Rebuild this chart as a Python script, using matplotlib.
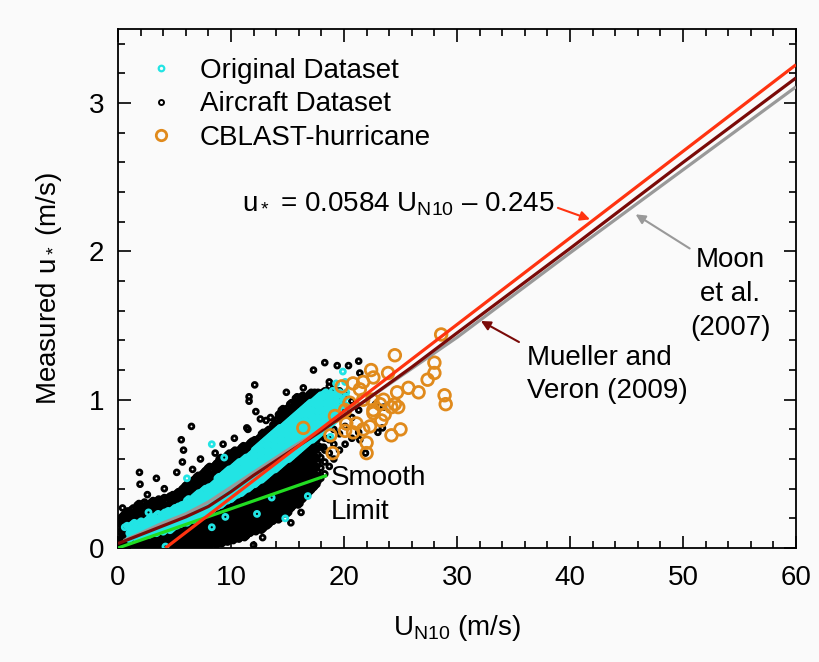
import numpy as np
import matplotlib
matplotlib.use("Agg")
import matplotlib.pyplot as plt
from matplotlib.lines import Line2D

plt.rcParams['font.family'] = ['Liberation Sans', 'DejaVu Sans']
plt.rcParams['mathtext.fontset'] = 'custom'
plt.rcParams['mathtext.rm'] = 'Liberation Sans'
plt.rcParams['mathtext.it'] = 'Liberation Sans:italic'
plt.rcParams['mathtext.bf'] = 'Liberation Sans:bold'

# ---------------- data ----------------
# Aircraft dataset: dense core, as (U_N10, [u* values]) columns
aircraft_core = [
    (0.2, [0.01, 0.06, 0.11, 0.16, 0.20]),
    (0.45, [0.03, 0.08, 0.13, 0.18, 0.22]),
    (0.7, [0.00, 0.05, 0.10, 0.15, 0.20, 0.24]),
    (0.95, [0.02, 0.07, 0.12, 0.17, 0.22]),
    (1.2, [0.01, 0.06, 0.11, 0.16, 0.21, 0.26]),
    (1.45, [0.03, 0.08, 0.13, 0.18, 0.23]),
    (1.7, [0.00, 0.05, 0.10, 0.15, 0.20, 0.25, 0.29]),
    (1.95, [0.02, 0.07, 0.12, 0.17, 0.22, 0.27]),
    (2.2, [0.01, 0.06, 0.11, 0.16, 0.21, 0.26, 0.30]),
    (2.45, [0.03, 0.08, 0.13, 0.18, 0.23, 0.28]),
    (2.7, [0.00, 0.05, 0.10, 0.15, 0.20, 0.25, 0.29]),
    (2.95, [0.02, 0.07, 0.12, 0.17, 0.22, 0.27, 0.31]),
    (3.2, [0.01, 0.06, 0.11, 0.16, 0.21, 0.26, 0.30]),
    (3.45, [0.03, 0.08, 0.13, 0.18, 0.23, 0.28, 0.32]),
    (3.7, [0.00, 0.05, 0.10, 0.15, 0.20, 0.25, 0.30]),
    (3.95, [0.02, 0.07, 0.12, 0.17, 0.22, 0.27, 0.33]),
    (4.2, [0.01, 0.06, 0.11, 0.16, 0.21, 0.26, 0.31]),
    (4.45, [0.03, 0.08, 0.13, 0.18, 0.23, 0.28, 0.34]),
    (4.7, [0.00, 0.05, 0.10, 0.15, 0.20, 0.25, 0.30, 0.35]),
    (4.95, [0.02, 0.07, 0.12, 0.17, 0.22, 0.27, 0.32]),
    (5.2, [0.01, 0.06, 0.11, 0.16, 0.21, 0.26, 0.31, 0.37]),
    (5.45, [0.03, 0.08, 0.13, 0.18, 0.23, 0.28, 0.33, 0.38]),
    (5.7, [0.00, 0.05, 0.10, 0.15, 0.20, 0.25, 0.30, 0.35, 0.40]),
    (5.95, [0.02, 0.07, 0.12, 0.17, 0.22, 0.27, 0.32, 0.37, 0.42]),
    (6.2, [0.01, 0.06, 0.11, 0.16, 0.21, 0.26, 0.31, 0.36, 0.41]),
    (6.45, [0.03, 0.08, 0.13, 0.18, 0.23, 0.28, 0.33, 0.38, 0.43]),
    (6.7, [0.01, 0.06, 0.11, 0.16, 0.21, 0.26, 0.31, 0.36, 0.41, 0.46]),
    (6.95, [0.03, 0.08, 0.13, 0.18, 0.23, 0.28, 0.33, 0.38, 0.43, 0.48]),
    (7.2, [0.02, 0.07, 0.12, 0.17, 0.22, 0.27, 0.32, 0.37, 0.42, 0.47]),
    (7.45, [0.04, 0.09, 0.14, 0.19, 0.24, 0.29, 0.34, 0.39, 0.44, 0.50]),
    (7.7, [0.01, 0.06, 0.11, 0.16, 0.21, 0.26, 0.31, 0.36, 0.41, 0.46, 0.52]),
    (7.95, [0.03, 0.08, 0.13, 0.18, 0.23, 0.28, 0.33, 0.38, 0.43, 0.48, 0.54]),
    (8.2, [0.02, 0.07, 0.12, 0.17, 0.22, 0.27, 0.32, 0.37, 0.42, 0.47, 0.52]),
    (8.45, [0.04, 0.09, 0.14, 0.19, 0.24, 0.29, 0.34, 0.39, 0.44, 0.49, 0.55]),
    (8.7, [0.02, 0.07, 0.12, 0.17, 0.22, 0.27, 0.32, 0.37, 0.42, 0.47, 0.52, 0.57]),
    (8.95, [0.04, 0.09, 0.14, 0.19, 0.24, 0.29, 0.34, 0.39, 0.44, 0.49, 0.54, 0.60]),
    (9.2, [0.03, 0.08, 0.13, 0.18, 0.23, 0.28, 0.33, 0.38, 0.43, 0.48, 0.53, 0.58]),
    (9.45, [0.05, 0.10, 0.15, 0.20, 0.25, 0.30, 0.35, 0.40, 0.45, 0.50, 0.55, 0.61]),
    (9.7, [0.04, 0.09, 0.14, 0.19, 0.24, 0.29, 0.34, 0.39, 0.44, 0.49, 0.54, 0.59, 0.63]),
    (9.95, [0.06, 0.11, 0.16, 0.21, 0.26, 0.31, 0.36, 0.41, 0.46, 0.51, 0.56, 0.61]),
    (10.2, [0.05, 0.10, 0.15, 0.20, 0.25, 0.30, 0.35, 0.40, 0.45, 0.50, 0.55, 0.60, 0.65]),
    (10.45, [0.07, 0.12, 0.17, 0.22, 0.27, 0.32, 0.37, 0.42, 0.47, 0.52, 0.57, 0.62]),
    (10.7, [0.06, 0.11, 0.16, 0.21, 0.26, 0.31, 0.36, 0.41, 0.46, 0.51, 0.56, 0.61, 0.66]),
    (10.95, [0.08, 0.13, 0.18, 0.23, 0.28, 0.33, 0.38, 0.43, 0.48, 0.53, 0.58, 0.63, 0.68]),
    (11.2, [0.07, 0.12, 0.17, 0.22, 0.27, 0.32, 0.37, 0.42, 0.47, 0.52, 0.57, 0.62, 0.67]),
    (11.45, [0.09, 0.14, 0.19, 0.24, 0.29, 0.34, 0.39, 0.44, 0.49, 0.54, 0.59, 0.64, 0.69]),
    (11.7, [0.10, 0.15, 0.20, 0.25, 0.30, 0.35, 0.40, 0.45, 0.50, 0.55, 0.60, 0.65, 0.71]),
    (11.95, [0.12, 0.17, 0.22, 0.27, 0.32, 0.37, 0.42, 0.47, 0.52, 0.57, 0.62, 0.67, 0.72]),
    (12.2, [0.11, 0.16, 0.21, 0.26, 0.31, 0.36, 0.41, 0.46, 0.51, 0.56, 0.61, 0.66, 0.71]),
    (12.45, [0.13, 0.18, 0.23, 0.28, 0.33, 0.38, 0.43, 0.48, 0.53, 0.58, 0.63, 0.68, 0.74]),
    (12.7, [0.12, 0.17, 0.22, 0.27, 0.32, 0.37, 0.42, 0.47, 0.52, 0.57, 0.62, 0.67, 0.72, 0.77]),
    (12.95, [0.14, 0.19, 0.24, 0.29, 0.34, 0.39, 0.44, 0.49, 0.54, 0.59, 0.64, 0.69, 0.75]),
    (13.2, [0.15, 0.20, 0.25, 0.30, 0.35, 0.40, 0.45, 0.50, 0.55, 0.60, 0.65, 0.70, 0.75, 0.79]),
    (13.45, [0.17, 0.22, 0.27, 0.32, 0.37, 0.42, 0.47, 0.52, 0.57, 0.62, 0.67, 0.72, 0.77]),
    (13.7, [0.18, 0.23, 0.28, 0.33, 0.38, 0.43, 0.48, 0.53, 0.58, 0.63, 0.68, 0.73, 0.78, 0.83]),
    (13.95, [0.20, 0.25, 0.30, 0.35, 0.40, 0.45, 0.50, 0.55, 0.60, 0.65, 0.70, 0.75, 0.80, 0.86]),
    (14.2, [0.19, 0.24, 0.29, 0.34, 0.39, 0.44, 0.49, 0.54, 0.59, 0.64, 0.69, 0.74, 0.79, 0.84, 0.90]),
    (14.45, [0.22, 0.27, 0.32, 0.37, 0.42, 0.47, 0.52, 0.57, 0.62, 0.67, 0.72, 0.77, 0.82, 0.87, 0.93]),
    (14.7, [0.24, 0.29, 0.34, 0.39, 0.44, 0.49, 0.54, 0.59, 0.64, 0.69, 0.74, 0.79, 0.84, 0.89]),
    (14.95, [0.23, 0.28, 0.33, 0.38, 0.43, 0.48, 0.53, 0.58, 0.63, 0.68, 0.73, 0.78, 0.83, 0.88, 0.94]),
    (15.2, [0.26, 0.31, 0.36, 0.41, 0.46, 0.51, 0.56, 0.61, 0.66, 0.71, 0.76, 0.81, 0.86, 0.91, 0.97]),
    (15.45, [0.28, 0.33, 0.38, 0.43, 0.48, 0.53, 0.58, 0.63, 0.68, 0.73, 0.78, 0.83, 0.88, 0.93]),
    (15.7, [0.30, 0.35, 0.40, 0.45, 0.50, 0.55, 0.60, 0.65, 0.70, 0.75, 0.80, 0.85, 0.90, 0.96, 1.01]),
    (15.95, [0.29, 0.34, 0.39, 0.44, 0.49, 0.54, 0.59, 0.64, 0.69, 0.74, 0.79, 0.84, 0.89, 0.94, 0.99]),
    (16.2, [0.32, 0.37, 0.42, 0.47, 0.52, 0.57, 0.62, 0.67, 0.72, 0.77, 0.82, 0.87, 0.92, 0.97, 1.02]),
    (16.45, [0.34, 0.39, 0.44, 0.49, 0.54, 0.59, 0.64, 0.69, 0.74, 0.79, 0.84, 0.89, 0.94, 1.00]),
    (16.7, [0.36, 0.41, 0.46, 0.51, 0.56, 0.61, 0.66, 0.71, 0.76, 0.81, 0.86, 0.91, 0.96, 1.02]),
    (16.95, [0.38, 0.43, 0.48, 0.53, 0.58, 0.63, 0.68, 0.73, 0.78, 0.83, 0.88, 0.93, 0.98, 1.04]),
    (17.2, [0.40, 0.45, 0.50, 0.55, 0.60, 0.65, 0.70, 0.75, 0.80, 0.85, 0.90, 0.95, 1.00]),
    (17.45, [0.42, 0.48, 0.54, 0.60, 0.66, 0.72, 0.78, 0.84, 0.90, 0.96, 1.03]),
    (17.7, [0.45, 0.51, 0.57, 0.63, 0.69, 0.75, 0.81, 0.87, 0.93, 0.99, 1.05]),
    (17.95, [0.47, 0.54, 0.61, 0.68, 0.75, 0.82, 0.89, 0.96, 1.03]),
    (18.3, [0.50, 0.58, 0.66, 0.74, 0.82, 0.90, 0.98, 1.06]),
    (18.7, [0.55, 0.64, 0.73, 0.82, 0.91, 1.00, 1.09]),
    (19.1, [0.60, 0.70, 0.80, 0.90, 1.00, 1.08]),
    (19.6, [0.66, 0.77, 0.88, 0.99, 1.06]),
    (20.1, [0.70, 0.82, 0.94, 1.03]),
    (20.7, [0.74, 0.88, 0.99]),
    (21.3, [0.78, 0.93]),
]
# Aircraft dataset: more of the dense core, between the columns above
aircraft_core_fill = [
    (0.35, [0.02, 0.07, 0.12, 0.17, 0.21]),
    (0.6, [0.04, 0.09, 0.14, 0.19, 0.23]),
    (0.85, [0.01, 0.06, 0.11, 0.16, 0.21, 0.25]),
    (1.1, [0.03, 0.08, 0.13, 0.18, 0.23]),
    (1.35, [0.02, 0.07, 0.12, 0.17, 0.22, 0.27]),
    (1.6, [0.04, 0.09, 0.14, 0.19, 0.24]),
    (1.85, [0.01, 0.06, 0.11, 0.16, 0.21, 0.26, 0.30]),
    (2.1, [0.03, 0.08, 0.13, 0.18, 0.23, 0.28]),
    (2.35, [0.02, 0.07, 0.12, 0.17, 0.22, 0.27, 0.31]),
    (2.6, [0.04, 0.09, 0.14, 0.19, 0.24, 0.29]),
    (2.85, [0.01, 0.06, 0.11, 0.16, 0.21, 0.26, 0.30]),
    (3.1, [0.03, 0.08, 0.13, 0.18, 0.23, 0.28, 0.32]),
    (3.35, [0.02, 0.07, 0.12, 0.17, 0.22, 0.27, 0.31]),
    (3.6, [0.04, 0.09, 0.14, 0.19, 0.24, 0.29, 0.33]),
    (3.85, [0.01, 0.06, 0.11, 0.16, 0.21, 0.26, 0.31]),
    (4.1, [0.03, 0.08, 0.13, 0.18, 0.23, 0.28, 0.34]),
    (4.35, [0.02, 0.07, 0.12, 0.17, 0.22, 0.27, 0.32]),
    (4.6, [0.04, 0.09, 0.14, 0.19, 0.24, 0.29, 0.35]),
    (4.85, [0.01, 0.06, 0.11, 0.16, 0.21, 0.26, 0.31, 0.36]),
    (5.1, [0.03, 0.08, 0.13, 0.18, 0.23, 0.28, 0.33]),
    (5.35, [0.02, 0.07, 0.12, 0.17, 0.22, 0.27, 0.32, 0.38]),
    (5.6, [0.04, 0.09, 0.14, 0.19, 0.24, 0.29, 0.34, 0.39]),
    (5.85, [0.01, 0.06, 0.11, 0.16, 0.21, 0.26, 0.31, 0.36, 0.41]),
    (6.1, [0.03, 0.08, 0.13, 0.18, 0.23, 0.28, 0.33, 0.38, 0.43]),
    (6.35, [0.02, 0.07, 0.12, 0.17, 0.22, 0.27, 0.32, 0.37, 0.42]),
    (6.6, [0.04, 0.09, 0.14, 0.19, 0.24, 0.29, 0.34, 0.39, 0.44]),
    (6.85, [0.02, 0.07, 0.12, 0.17, 0.22, 0.27, 0.32, 0.37, 0.42, 0.47]),
    (7.1, [0.04, 0.09, 0.14, 0.19, 0.24, 0.29, 0.34, 0.39, 0.44, 0.49]),
    (7.35, [0.03, 0.08, 0.13, 0.18, 0.23, 0.28, 0.33, 0.38, 0.43, 0.48]),
    (7.6, [0.05, 0.10, 0.15, 0.20, 0.25, 0.30, 0.35, 0.40, 0.45, 0.51]),
    (7.85, [0.02, 0.07, 0.12, 0.17, 0.22, 0.27, 0.32, 0.37, 0.42, 0.47, 0.53]),
    (8.1, [0.04, 0.09, 0.14, 0.19, 0.24, 0.29, 0.34, 0.39, 0.44, 0.49, 0.55]),
    (8.35, [0.03, 0.08, 0.13, 0.18, 0.23, 0.28, 0.33, 0.38, 0.43, 0.48, 0.53]),
    (8.6, [0.05, 0.10, 0.15, 0.20, 0.25, 0.30, 0.35, 0.40, 0.45, 0.50, 0.56]),
    (8.85, [0.03, 0.08, 0.13, 0.18, 0.23, 0.28, 0.33, 0.38, 0.43, 0.48, 0.53, 0.58]),
    (9.1, [0.05, 0.10, 0.15, 0.20, 0.25, 0.30, 0.35, 0.40, 0.45, 0.50, 0.55, 0.61]),
    (9.35, [0.04, 0.09, 0.14, 0.19, 0.24, 0.29, 0.34, 0.39, 0.44, 0.49, 0.54, 0.59]),
    (9.6, [0.06, 0.11, 0.16, 0.21, 0.26, 0.31, 0.36, 0.41, 0.46, 0.51, 0.56, 0.62]),
    (9.85, [0.05, 0.10, 0.15, 0.20, 0.25, 0.30, 0.35, 0.40, 0.45, 0.50, 0.55, 0.60, 0.64]),
    (10.1, [0.07, 0.12, 0.17, 0.22, 0.27, 0.32, 0.37, 0.42, 0.47, 0.52, 0.57, 0.62]),
    (10.35, [0.06, 0.11, 0.16, 0.21, 0.26, 0.31, 0.36, 0.41, 0.46, 0.51, 0.56, 0.61, 0.66]),
    (10.6, [0.08, 0.13, 0.18, 0.23, 0.28, 0.33, 0.38, 0.43, 0.48, 0.53, 0.58, 0.63]),
    (10.85, [0.07, 0.12, 0.17, 0.22, 0.27, 0.32, 0.37, 0.42, 0.47, 0.52, 0.57, 0.62, 0.67]),
    (11.1, [0.09, 0.14, 0.19, 0.24, 0.29, 0.34, 0.39, 0.44, 0.49, 0.54, 0.59, 0.64, 0.69]),
    (11.35, [0.08, 0.13, 0.18, 0.23, 0.28, 0.33, 0.38, 0.43, 0.48, 0.53, 0.58, 0.63, 0.68]),
    (11.6, [0.10, 0.15, 0.20, 0.25, 0.30, 0.35, 0.40, 0.45, 0.50, 0.55, 0.60, 0.65, 0.70]),
    (11.85, [0.11, 0.16, 0.21, 0.26, 0.31, 0.36, 0.41, 0.46, 0.51, 0.56, 0.61, 0.66, 0.72]),
    (12.1, [0.13, 0.18, 0.23, 0.28, 0.33, 0.38, 0.43, 0.48, 0.53, 0.58, 0.63, 0.68, 0.73]),
    (12.35, [0.12, 0.17, 0.22, 0.27, 0.32, 0.37, 0.42, 0.47, 0.52, 0.57, 0.62, 0.67, 0.72]),
    (12.6, [0.14, 0.19, 0.24, 0.29, 0.34, 0.39, 0.44, 0.49, 0.54, 0.59, 0.64, 0.69, 0.75]),
    (12.85, [0.13, 0.18, 0.23, 0.28, 0.33, 0.38, 0.43, 0.48, 0.53, 0.58, 0.63, 0.68, 0.73, 0.78]),
    (13.1, [0.15, 0.20, 0.25, 0.30, 0.35, 0.40, 0.45, 0.50, 0.55, 0.60, 0.65, 0.70, 0.76]),
    (13.35, [0.16, 0.21, 0.26, 0.31, 0.36, 0.41, 0.46, 0.51, 0.56, 0.61, 0.66, 0.71, 0.76, 0.80]),
    (13.6, [0.18, 0.23, 0.28, 0.33, 0.38, 0.43, 0.48, 0.53, 0.58, 0.63, 0.68, 0.73, 0.78]),
    (13.85, [0.19, 0.24, 0.29, 0.34, 0.39, 0.44, 0.49, 0.54, 0.59, 0.64, 0.69, 0.74, 0.79, 0.84]),
    (14.1, [0.21, 0.26, 0.31, 0.36, 0.41, 0.46, 0.51, 0.56, 0.61, 0.66, 0.71, 0.76, 0.81, 0.87]),
    (14.35, [0.20, 0.25, 0.30, 0.35, 0.40, 0.45, 0.50, 0.55, 0.60, 0.65, 0.70, 0.75, 0.80, 0.85, 0.91]),
    (14.6, [0.23, 0.28, 0.33, 0.38, 0.43, 0.48, 0.53, 0.58, 0.63, 0.68, 0.73, 0.78, 0.83, 0.88, 0.94]),
    (14.85, [0.25, 0.30, 0.35, 0.40, 0.45, 0.50, 0.55, 0.60, 0.65, 0.70, 0.75, 0.80, 0.85, 0.90]),
    (15.1, [0.24, 0.29, 0.34, 0.39, 0.44, 0.49, 0.54, 0.59, 0.64, 0.69, 0.74, 0.79, 0.84, 0.89, 0.95]),
    (15.35, [0.27, 0.32, 0.37, 0.42, 0.47, 0.52, 0.57, 0.62, 0.67, 0.72, 0.77, 0.82, 0.87, 0.92, 0.98]),
    (15.6, [0.29, 0.34, 0.39, 0.44, 0.49, 0.54, 0.59, 0.64, 0.69, 0.74, 0.79, 0.84, 0.89, 0.94]),
    (15.85, [0.31, 0.36, 0.41, 0.46, 0.51, 0.56, 0.61, 0.66, 0.71, 0.76, 0.81, 0.86, 0.91, 0.97, 1.02]),
    (16.1, [0.30, 0.35, 0.40, 0.45, 0.50, 0.55, 0.60, 0.65, 0.70, 0.75, 0.80, 0.85, 0.90, 0.95, 1.00]),
    (16.35, [0.33, 0.38, 0.43, 0.48, 0.53, 0.58, 0.63, 0.68, 0.73, 0.78, 0.83, 0.88, 0.93, 0.98, 1.03]),
    (16.6, [0.35, 0.40, 0.45, 0.50, 0.55, 0.60, 0.65, 0.70, 0.75, 0.80, 0.85, 0.90, 0.95, 1.01]),
    (16.85, [0.37, 0.42, 0.47, 0.52, 0.57, 0.62, 0.67, 0.72, 0.77, 0.82, 0.87, 0.92, 0.97, 1.03]),
    (17.1, [0.39, 0.44, 0.49, 0.54, 0.59, 0.64, 0.69, 0.74, 0.79, 0.84, 0.89, 0.94, 0.99, 1.05]),
    (17.35, [0.41, 0.46, 0.51, 0.56, 0.61, 0.66, 0.71, 0.76, 0.81, 0.86, 0.91, 0.96, 1.01]),
    (17.6, [0.43, 0.49, 0.55, 0.61, 0.67, 0.73, 0.79, 0.85, 0.91, 0.97, 1.04]),
]
aircraft_outliers = [
    (1.95, 0.43), (1.9, 0.51), (3.4, 0.47), (5.6, 0.73), (6.5, 0.82), (5.8, 0.66),
    (5.7, 0.58), (7.3, 0.60), (6.6, 0.53), (5.2, 0.51), (7.9, 0.51), (12.1, 1.10),
    (11.6, 1.02), (11.6, 0.99), (12.2, 0.92), (12.6, 0.87), (13.5, 0.88), (14.9, 1.05),
    (14.6, 0.92), (11.5, 0.80), (18.3, 1.25), (17.3, 1.20), (19.4, 1.23), (20.4, 1.23),
    (21.3, 1.26), (16.4, 1.08), (18.7, 1.12), (17.4, 1.05), (18.1, 1.05), (13.1, 0.86),
    (11.4, 0.81), (21.4, 1.18), (23.4, 0.81), (23.0, 0.78), (21.4, 0.73), (18.2, 0.68),
    (23.5, 0.95), (22.8, 0.97), (21.9, 0.64), (12.8, 0.07), (9.9, 0.09), (11.4, 0.09),
    (13.7, 0.19), (14.6, 0.24), (17.0, 0.39), (0.4, 0.27), (2.6, 0.36), (4.1, 0.40),
    (9.3, 0.70), (10.3, 0.74), (8.6, 0.64), (15.3, 0.17), (16.2, 0.24), (12.0, 0.02),
]

# Original dataset: dense band, as (U_N10, [u* values]) columns
original_core = [
    (1.0, [0.06, 0.10, 0.14]), (1.3, [0.08, 0.12, 0.16]), (1.6, [0.07, 0.11, 0.15]),
    (1.9, [0.09, 0.13, 0.17]), (2.2, [0.08, 0.12, 0.16]), (2.5, [0.10, 0.14, 0.18]),
    (2.8, [0.09, 0.13, 0.17, 0.20]), (3.1, [0.11, 0.15, 0.19]),
    (3.4, [0.10, 0.14, 0.18, 0.22]), (3.7, [0.12, 0.16, 0.20]),
    (4.0, [0.11, 0.15, 0.19, 0.23]), (4.3, [0.13, 0.17, 0.21, 0.24]),
    (4.6, [0.12, 0.16, 0.20, 0.24]), (4.9, [0.14, 0.18, 0.22, 0.26]),
    (5.2, [0.15, 0.19, 0.23, 0.27]), (5.5, [0.16, 0.20, 0.24, 0.28]),
    (5.8, [0.17, 0.21, 0.25, 0.29]), (6.1, [0.17, 0.21, 0.25, 0.29, 0.32]),
    (6.4, [0.19, 0.23, 0.27, 0.31]), (6.7, [0.19, 0.23, 0.27, 0.31, 0.34]),
    (7.0, [0.21, 0.25, 0.29, 0.33, 0.36]), (7.3, [0.22, 0.26, 0.30, 0.34, 0.37]),
    (7.6, [0.23, 0.27, 0.31, 0.35, 0.39]), (7.9, [0.24, 0.28, 0.32, 0.36, 0.40]),
    (8.2, [0.25, 0.29, 0.33, 0.37, 0.41]), (8.5, [0.27, 0.31, 0.35, 0.39, 0.43]),
    (8.8, [0.28, 0.32, 0.36, 0.40, 0.44, 0.47]), (9.1, [0.29, 0.33, 0.37, 0.41, 0.45, 0.48]),
    (9.4, [0.31, 0.35, 0.39, 0.43, 0.47, 0.50]), (9.7, [0.32, 0.36, 0.40, 0.44, 0.48, 0.52]),
    (10.0, [0.33, 0.37, 0.41, 0.45, 0.49, 0.53]), (10.3, [0.35, 0.39, 0.43, 0.47, 0.51, 0.55]),
    (10.6, [0.36, 0.40, 0.44, 0.48, 0.52, 0.57]), (10.9, [0.37, 0.41, 0.45, 0.49, 0.53, 0.58]),
    (11.2, [0.39, 0.43, 0.47, 0.51, 0.55, 0.60]), (11.5, [0.40, 0.44, 0.48, 0.52, 0.56, 0.61]),
    (11.8, [0.42, 0.46, 0.50, 0.54, 0.58, 0.63]),
    (12.1, [0.43, 0.47, 0.51, 0.55, 0.59, 0.63, 0.66]),
    (12.4, [0.45, 0.49, 0.53, 0.57, 0.61, 0.65, 0.68]),
    (12.7, [0.46, 0.50, 0.54, 0.58, 0.62, 0.66, 0.70]),
    (13.0, [0.48, 0.52, 0.56, 0.60, 0.64, 0.68, 0.72]),
    (13.3, [0.50, 0.54, 0.58, 0.62, 0.66, 0.70, 0.74]),
    (13.6, [0.52, 0.56, 0.60, 0.64, 0.68, 0.72, 0.76]),
    (13.9, [0.53, 0.57, 0.61, 0.65, 0.69, 0.73, 0.78]),
    (14.2, [0.55, 0.59, 0.63, 0.67, 0.71, 0.75, 0.80]),
    (14.5, [0.57, 0.61, 0.65, 0.69, 0.73, 0.77, 0.81]),
    (14.8, [0.59, 0.63, 0.67, 0.71, 0.75, 0.79, 0.83]),
    (15.1, [0.60, 0.64, 0.68, 0.72, 0.76, 0.80, 0.85]),
    (15.4, [0.62, 0.66, 0.70, 0.74, 0.78, 0.82, 0.87]),
    (15.7, [0.64, 0.68, 0.72, 0.76, 0.80, 0.84, 0.89]),
    (16.0, [0.66, 0.70, 0.74, 0.78, 0.82, 0.86, 0.91]),
    (16.3, [0.68, 0.72, 0.76, 0.80, 0.84, 0.88, 0.93]),
    (16.6, [0.70, 0.74, 0.78, 0.82, 0.86, 0.90, 0.95]),
    (16.9, [0.72, 0.76, 0.80, 0.84, 0.88, 0.92, 0.97]),
    (17.2, [0.73, 0.77, 0.81, 0.85, 0.89, 0.93, 0.98]),
    (17.5, [0.75, 0.79, 0.83, 0.87, 0.91, 0.95, 1.00]),
    (17.8, [0.77, 0.81, 0.85, 0.89, 0.93, 0.97, 1.02]),
    (18.1, [0.79, 0.83, 0.87, 0.91, 0.95, 0.99, 1.03]),
    (18.4, [0.81, 0.85, 0.89, 0.93, 0.97, 1.01, 1.05]),
    (18.7, [0.83, 0.87, 0.91, 0.95, 0.99, 1.03]),
    (19.0, [0.85, 0.89, 0.93, 0.97, 1.01, 1.06]),
    (19.3, [0.88, 0.92, 0.96, 1.00, 1.04]),
    (19.6, [0.90, 0.95, 1.00, 1.05]),
    (19.9, [0.93, 0.99, 1.04]),
    (20.2, [0.96, 1.02]),
]
# Original dataset: more of the dense band, between the columns above
original_core_fill = [
    (1.15, [0.07, 0.11, 0.15]), (1.45, [0.09, 0.13, 0.17]), (1.75, [0.08, 0.12, 0.16]),
    (2.05, [0.10, 0.14, 0.18]), (2.35, [0.09, 0.13, 0.17]), (2.65, [0.11, 0.15, 0.19]),
    (2.95, [0.10, 0.14, 0.18, 0.21]), (3.25, [0.12, 0.16, 0.20]),
    (3.55, [0.11, 0.15, 0.19, 0.23]), (3.85, [0.13, 0.17, 0.21]),
    (4.15, [0.12, 0.16, 0.20, 0.24]), (4.45, [0.14, 0.18, 0.22, 0.25]),
    (4.75, [0.13, 0.17, 0.21, 0.25]), (5.05, [0.15, 0.19, 0.23, 0.27]),
    (5.35, [0.16, 0.20, 0.24, 0.28]), (5.65, [0.17, 0.21, 0.25, 0.29]),
    (5.95, [0.18, 0.22, 0.26, 0.30]), (6.25, [0.18, 0.22, 0.26, 0.30, 0.33]),
    (6.55, [0.20, 0.24, 0.28, 0.32]), (6.85, [0.20, 0.24, 0.28, 0.32, 0.35]),
    (7.15, [0.22, 0.26, 0.30, 0.34, 0.37]), (7.45, [0.23, 0.27, 0.31, 0.35, 0.38]),
    (7.75, [0.24, 0.28, 0.32, 0.36, 0.40]), (8.05, [0.25, 0.29, 0.33, 0.37, 0.41]),
    (8.35, [0.26, 0.30, 0.34, 0.38, 0.42]), (8.65, [0.28, 0.32, 0.36, 0.40, 0.44]),
    (8.95, [0.29, 0.33, 0.37, 0.41, 0.45, 0.48]), (9.25, [0.30, 0.34, 0.38, 0.42, 0.46, 0.49]),
    (9.55, [0.32, 0.36, 0.40, 0.44, 0.48, 0.51]), (9.85, [0.33, 0.37, 0.41, 0.45, 0.49, 0.53]),
    (10.15, [0.34, 0.38, 0.42, 0.46, 0.50, 0.54]), (10.45, [0.36, 0.40, 0.44, 0.48, 0.52, 0.56]),
    (10.75, [0.37, 0.41, 0.45, 0.49, 0.53, 0.58]), (11.05, [0.38, 0.42, 0.46, 0.50, 0.54, 0.59]),
    (11.35, [0.40, 0.44, 0.48, 0.52, 0.56, 0.61]), (11.65, [0.41, 0.45, 0.49, 0.53, 0.57, 0.62]),
    (11.95, [0.43, 0.47, 0.51, 0.55, 0.59, 0.64]),
    (12.25, [0.44, 0.48, 0.52, 0.56, 0.60, 0.64, 0.67]),
    (12.55, [0.46, 0.50, 0.54, 0.58, 0.62, 0.66, 0.69]),
    (12.85, [0.47, 0.51, 0.55, 0.59, 0.63, 0.67, 0.71]),
    (13.15, [0.49, 0.53, 0.57, 0.61, 0.65, 0.69, 0.73]),
    (13.45, [0.51, 0.55, 0.59, 0.63, 0.67, 0.71, 0.75]),
    (13.75, [0.53, 0.57, 0.61, 0.65, 0.69, 0.73, 0.77]),
    (14.05, [0.54, 0.58, 0.62, 0.66, 0.70, 0.74, 0.79]),
    (14.35, [0.56, 0.60, 0.64, 0.68, 0.72, 0.76, 0.81]),
    (14.65, [0.58, 0.62, 0.66, 0.70, 0.74, 0.78, 0.82]),
    (14.95, [0.60, 0.64, 0.68, 0.72, 0.76, 0.80, 0.84]),
    (15.25, [0.61, 0.65, 0.69, 0.73, 0.77, 0.81, 0.86]),
    (15.55, [0.63, 0.67, 0.71, 0.75, 0.79, 0.83, 0.88]),
    (15.85, [0.65, 0.69, 0.73, 0.77, 0.81, 0.85, 0.90]),
    (16.15, [0.67, 0.71, 0.75, 0.79, 0.83, 0.87, 0.92]),
    (16.45, [0.69, 0.73, 0.77, 0.81, 0.85, 0.89, 0.94]),
    (16.75, [0.71, 0.75, 0.79, 0.83, 0.87, 0.91, 0.96]),
    (17.05, [0.73, 0.77, 0.81, 0.85, 0.89, 0.93, 0.98]),
    (17.35, [0.74, 0.78, 0.82, 0.86, 0.90, 0.94, 0.99]),
    (17.65, [0.76, 0.80, 0.84, 0.88, 0.92, 0.96, 1.01]),
    (17.95, [0.78, 0.82, 0.86, 0.90, 0.94, 0.98, 1.03]),
    (18.25, [0.80, 0.84, 0.88, 0.92, 0.96, 1.00, 1.04]),
    (18.55, [0.82, 0.86, 0.90, 0.94, 0.98, 1.02]),
    (18.85, [0.84, 0.88, 0.92, 0.96, 1.00, 1.04]),
    (19.15, [0.86, 0.90, 0.94, 0.98, 1.02]),
]
original_outliers = [
    (8.3, 0.70), (9.4, 0.61), (0.8, 0.15), (2.7, 0.24), (4.2, 0.01), (6.1, 0.47),
    (8.3, 0.14), (9.5, 0.21), (19.9, 1.19), (19.3, 1.11), (20.2, 1.05), (20.1, 1.12),
    (18.8, 0.75), (14.8, 0.20), (16.8, 0.35), (13.6, 0.34), (12.3, 0.23), (0.6, 0.14),
    (3.1, 0.17), (18.3, 0.95), (19.0, 0.99),
]

# CBLAST-hurricane
cblast_U = [28.6, 24.5, 28.0, 28.0, 27.4, 23.9, 22.4, 22.6, 21.7, 25.7, 26.6, 28.9,
            29.0, 24.7, 24.5, 24.8, 24.2, 20.8, 21.4, 21.7, 22.5, 22.6, 20.5, 20.1,
            19.2, 20.2, 21.1, 21.7, 20.8, 20.1, 22.3, 25.0, 24.2, 22.0, 22.0, 18.8,
            19.0, 23.2, 23.3, 23.6, 19.8, 16.4, 23.5, 22.6]
cblast_us = [1.44, 1.30, 1.25, 1.18, 1.135, 1.18, 1.20, 1.15, 1.12, 1.08, 1.05, 1.03,
             0.97, 1.05, 0.97, 0.95, 0.95, 1.11, 1.07, 1.00, 1.00, 0.93, 0.98, 0.93,
             0.89, 0.84, 0.84, 0.80, 0.78, 0.79, 0.82, 0.80, 0.76, 0.71, 0.64, 0.76,
             0.64, 0.97, 0.86, 0.90, 1.09, 0.81, 1.00, 0.91]

# Model curves
fit_U = [4.2, 60.0]
fit_us = [0.0, 3.259]
mueller_U = [0, 2, 4, 6, 8, 10, 12, 15, 18, 22, 26, 30, 40, 50, 60]
mueller_us = [0.03, 0.09, 0.15, 0.21, 0.28, 0.38, 0.49, 0.64, 0.79, 1.00, 1.22, 1.45, 2.02, 2.60, 3.17]
moon_U = [0.5, 2, 4, 6, 8, 10, 12, 15, 18, 22, 26, 30, 40, 50, 60]
moon_us = [0.05, 0.10, 0.17, 0.23, 0.31, 0.41, 0.51, 0.66, 0.80, 1.00, 1.21, 1.42, 1.99, 2.55, 3.11]
smooth_U = [0.0, 18.5]
smooth_us = [0.0, 0.49]

# ---------------- figure ----------------
fig = plt.figure(figsize=(8.2, 6.62), dpi=100, facecolor='#fafafa')
ax = fig.add_axes([0.1439, 0.1722, 0.8268, 0.784])
ax.set_facecolor('#fafafa')

cyan = '#22e4e4'
orange = '#e08a1c'

def expand(cols):
    xs, ys = [], []
    for u, vals in cols:
        for v in vals:
            xs.append(u)
            ys.append(v)
    return xs, ys

ax_x, ax_y = expand(aircraft_core + aircraft_core_fill)
ax_x += [p[0] for p in aircraft_outliers]
ax_y += [p[1] for p in aircraft_outliers]
or_x, or_y = expand(original_core + original_core_fill)
or_x += [p[0] for p in original_outliers]
or_y += [p[1] for p in original_outliers]

ax.scatter(ax_x, ax_y, s=12, facecolors='none', edgecolors='black', linewidths=2.0, zorder=2)
ax.scatter(or_x, or_y, s=13, facecolors='none', edgecolors=cyan, linewidths=2.0, zorder=3)
ax.scatter(cblast_U, cblast_us, s=70, facecolors='none', edgecolors=orange, linewidths=2.0, zorder=4)

ax.plot(moon_U, moon_us, color='#999999', lw=2.3, zorder=5, solid_capstyle='butt')
ax.plot(mueller_U, mueller_us, color='#7a0a08', lw=2.3, zorder=6, solid_capstyle='butt')
ax.plot(smooth_U, smooth_us, color='#22dd22', lw=2.3, zorder=7, solid_capstyle='butt')
ax.plot(fit_U, fit_us, color='#ff3310', lw=2.3, zorder=8, solid_capstyle='butt')

ax.set_xlim(0, 60)
ax.set_ylim(0, 3.5)
ax.set_xticks([0, 10, 20, 30, 40, 50, 60])
ax.set_yticks([0, 1, 2, 3])
ax.set_xticks(np.arange(0, 61, 2), minor=True)
ax.set_yticks(np.arange(0, 3.51, 0.2), minor=True)
ax.tick_params(which='both', direction='in', top=True, right=True, width=1.2, labelsize=20)
ax.tick_params(which='major', length=9)
ax.tick_params(which='minor', length=5)
ax.tick_params(axis='x', pad=12)
ax.tick_params(axis='y', pad=10)
for sp in ax.spines.values():
    sp.set_linewidth(1.3)

ax.set_xlabel(r'U$_{\mathrm{N10}}$ (m/s)', fontsize=20, labelpad=16)
ax.set_ylabel(r'Measured u$_*$ (m/s)', fontsize=20, labelpad=18)

# legend
handles = [
    Line2D([], [], ls='none', marker='o', ms=4.0, mfc='none', mec=cyan, mew=1.6),
    Line2D([], [], ls='none', marker='o', ms=3.6, mfc='none', mec='black', mew=1.4),
    Line2D([], [], ls='none', marker='o', ms=7.5, mfc='none', mec=orange, mew=2.0),
]
ax.legend(handles, ['Original Dataset', 'Aircraft Dataset', 'CBLAST-hurricane'],
          loc='upper left', bbox_to_anchor=(0.022, 0.944), frameon=False, fontsize=20,
          handlelength=2.0, handletextpad=0.4, labelspacing=0.26, borderpad=0, borderaxespad=0)

# annotations
ax.text(11.0, 2.32, r'u$_*$ = 0.0584 U$_{\mathrm{N10}}$ – 0.245', fontsize=20, va='center', ha='left')
ax.annotate('', xy=(42.0, 2.21), xytext=(38.7, 2.30),
            arrowprops=dict(arrowstyle='-|>', color='#ff3310', lw=1.5, mutation_scale=14))
ax.text(54.2, 1.71, 'Moon\net al.\n(2007)', fontsize=20, ha='center', va='center', linespacing=1.4)
ax.annotate('', xy=(45.6, 2.26), xytext=(50.8, 2.01),
            arrowprops=dict(arrowstyle='-|>', color='#999999', lw=1.5, mutation_scale=14))
ax.text(36.2, 1.17, 'Mueller and\nVeron (2009)', fontsize=20, ha='left', va='center', linespacing=1.38)
ax.annotate('', xy=(31.9, 1.54), xytext=(35.7, 1.38),
            arrowprops=dict(arrowstyle='-|>', color='#7a0a08', lw=1.5, mutation_scale=14))
ax.text(18.8, 0.355, 'Smooth\nLimit', fontsize=20, ha='left', va='center', linespacing=1.4)

fig.savefig('out.png', dpi=100, facecolor=fig.get_facecolor())
